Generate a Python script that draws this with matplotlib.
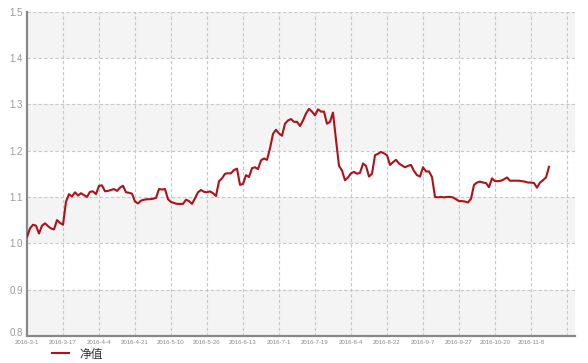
import matplotlib
matplotlib.use("Agg")
import matplotlib.pyplot as plt

# net value series (one point per trading day)
values = [
    1.014, 1.032, 1.040, 1.038, 1.021, 1.038, 1.043, 1.037, 1.032, 1.030,
    1.050, 1.044, 1.040, 1.090, 1.106, 1.101, 1.110, 1.103, 1.108, 1.104,
    1.100, 1.111, 1.112, 1.106, 1.124, 1.125, 1.112, 1.113, 1.115, 1.117,
    1.113, 1.120, 1.124, 1.110, 1.109, 1.107, 1.090, 1.086, 1.092, 1.094,
    1.095, 1.095, 1.096, 1.098, 1.117, 1.116, 1.117, 1.095, 1.089, 1.087,
    1.085, 1.085, 1.085, 1.094, 1.091, 1.085, 1.097, 1.110, 1.115, 1.111,
    1.110, 1.112, 1.108, 1.102, 1.134, 1.140, 1.150, 1.151, 1.151, 1.158,
    1.161, 1.126, 1.128, 1.147, 1.143, 1.162, 1.164, 1.160, 1.179, 1.183,
    1.180, 1.205, 1.236, 1.245, 1.237, 1.232, 1.258, 1.265, 1.268, 1.262,
    1.262, 1.253, 1.265, 1.280, 1.290, 1.284, 1.276, 1.289, 1.284, 1.284,
    1.258, 1.262, 1.282, 1.223, 1.167, 1.157, 1.136, 1.142, 1.151, 1.154,
    1.150, 1.152, 1.172, 1.167, 1.144, 1.150, 1.190, 1.193, 1.197, 1.194,
    1.190, 1.169, 1.175, 1.180, 1.172, 1.168, 1.164, 1.167, 1.169, 1.156,
    1.147, 1.144, 1.164, 1.155, 1.155, 1.143, 1.100, 1.099, 1.100, 1.099,
    1.100, 1.100, 1.099, 1.095, 1.091, 1.091, 1.090, 1.088, 1.096, 1.126,
    1.131, 1.133, 1.131, 1.130, 1.121, 1.140, 1.134, 1.134, 1.135, 1.138,
    1.142, 1.135, 1.135, 1.135, 1.135, 1.134, 1.133, 1.131, 1.131, 1.130,
    1.120, 1.131, 1.136, 1.142, 1.165,
]

# date labels, one every 12 trading days
date_labels = ["2016-3-1", "2016-3-17", "2016-4-4", "2016-4-21", "2016-5-10",
               "2016-5-26", "2016-6-13", "2016-7-1", "2016-7-19", "2016-8-4",
               "2016-8-22", "2016-9-7", "2016-9-27", "2016-10-20", "2016-11-8"]
label_step = 12
yticks = [0.8, 0.9, 1.0, 1.1, 1.2, 1.3, 1.4, 1.5]

fig = plt.figure(figsize=(5.88, 3.63), dpi=100)
ax = fig.add_axes([27 / 588, 1 - 336 / 363, 548 / 588, 324.5 / 363])

x_end = 182.67
ax.set_xlim(0, x_end)
ax.set_ylim(0.8, 1.5)

# alternating horizontal bands
for k in range(len(yticks) - 1):
    if k % 2 == 0:
        ax.axhspan(yticks[k], yticks[k + 1], color="#f4f4f4", lw=0, zorder=0)

grid_kw = dict(color="#c8c8c8", lw=0.8, ls=(0, (3, 2)), zorder=1)
for y in yticks[1:]:
    ax.axhline(y, **grid_kw)
for gx in range(label_step, 181, label_step):
    ax.axvline(gx, **grid_kw)
ax.axvline(x_end, **grid_kw)

xs = list(range(len(values)))
line, = ax.plot(xs, values, color="#ac1219", lw=1.5, zorder=3)

ax.set_xticks([i * label_step for i in range(len(date_labels))])
ax.set_xticklabels(date_labels, fontsize=4.4, color="#888888",
                   family="Liberation Sans")
ax.set_yticks(yticks)
ax.set_yticklabels([f"{v:.1f}" for v in yticks], fontsize=7, color="#999999",
                   family="Liberation Sans")
ax.tick_params(axis="both", length=0)
ax.tick_params(axis="x", pad=3)
ax.tick_params(axis="y", pad=3)
# the lowest y label sits on its gridline, as in the original
ax.get_yticklabels()[0].set_verticalalignment("baseline")

for s in ["top", "right"]:
    ax.spines[s].set_visible(False)
ax.spines["left"].set_color("#888888")
ax.spines["left"].set_linewidth(1.6)
ax.spines["bottom"].set_color("#888888")
ax.spines["bottom"].set_linewidth(1.6)

fig.legend([line], ["净值"], loc="center left", bbox_to_anchor=(44 / 588, 1 - 354 / 363),
           frameon=False, handlelength=1.4, handletextpad=0.9, borderpad=0.2,
           prop={"family": ["Noto Sans CJK SC", "DejaVu Sans"], "size": 8.5},
           labelcolor="#333333")

fig.savefig("out.png", dpi=100)
